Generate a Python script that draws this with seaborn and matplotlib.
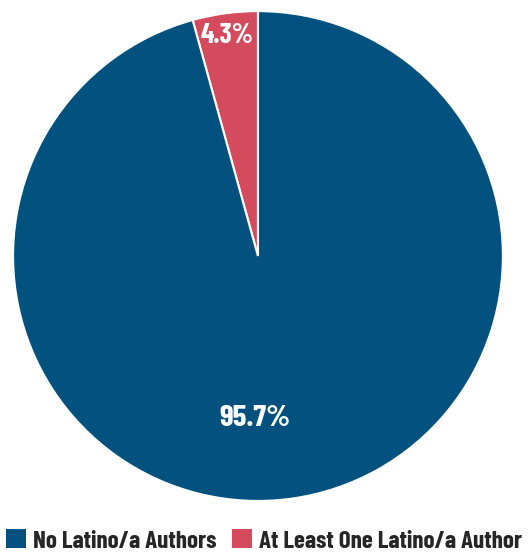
import matplotlib
matplotlib.use("Agg")
import matplotlib.pyplot as plt
import seaborn as sns
from matplotlib.patches import Patch

sns.set_theme(style="white")

categories = ["At Least One Latino/a Author", "No Latino/a Authors"]
shares = [4.3, 95.7]
labels = ["4.3%", "95.7%"]
colors = ["#d34b5c", "#03517f"]

FONT = ["Barlow Condensed", "DejaVu Sans"]
plt.rcParams["font.family"] = FONT

fig = plt.figure(figsize=(5.28, 5.56), dpi=100)
ax = fig.add_axes([0.0246, 0.099, 0.928, 0.881])

wedges, _ = ax.pie(shares, colors=colors, startangle=90, counterclock=True,
                   radius=1, wedgeprops=dict(edgecolor="white", linewidth=1.5))
ax.set_xlim(-1, 1)
ax.set_ylim(-1, 1)
ax.set_aspect("equal")
ax.axis("off")

ax.text(-0.127, 0.902, labels[0], color="white", fontsize=20, fontweight="bold",
        ha="center", va="center")
ax.text(-0.012, -0.665, labels[1], color="white", fontsize=22.5, fontweight="bold",
        ha="center", va="center")

handles = [Patch(facecolor=colors[1], edgecolor="none"),
           Patch(facecolor=colors[0], edgecolor="none")]
fig.legend(handles, [categories[1], categories[0]], loc="center",
           bbox_to_anchor=(0.5, 0.027), ncol=2, frameon=False,
           handlelength=0.8, handleheight=0.8,
           handletextpad=0.3, columnspacing=0.6,
           prop=dict(family=FONT, weight="bold", size=18))

fig.savefig("out.png", dpi=100)
